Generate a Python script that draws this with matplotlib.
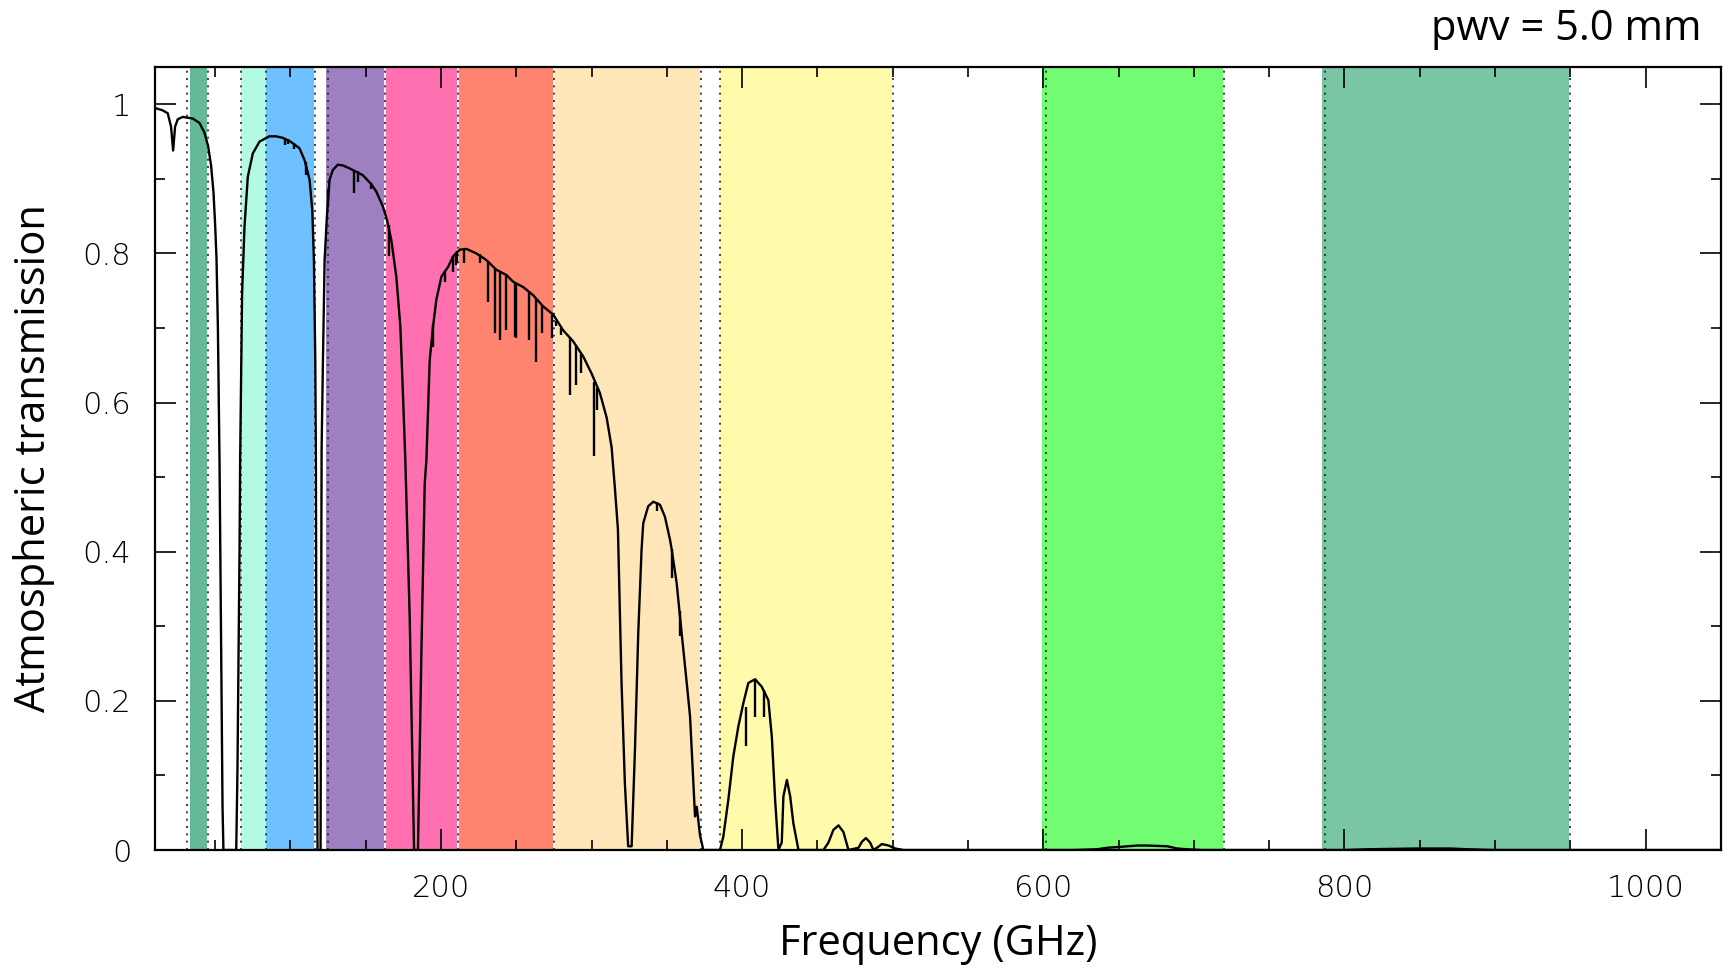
# Atmospheric transmission at pwv = 5.0 mm with the ALMA bands shaded.

import matplotlib
matplotlib.use('Agg')
import matplotlib.pyplot as plt
from matplotlib.ticker import MultipleLocator, FuncFormatter

# =========================
# Transmission curve (smooth part)
# =========================
freq_ghz = [10, 15, 18.5, 20.7, 22.1, 23.4, 25.2, 28.5, 35, 39.6, 42.9, 45.3, 47.3,
            48.9, 50.0, 50.9, 51.8, 52.9, 53.7, 54.9, 55.5, 64.0, 64.8, 66.2, 66.6,
            67.9, 69.5, 71.7, 75.0, 79.5, 86, 90.5, 95, 100, 106, 109.4, 112.7,
            114.5, 115.6, 116.5, 116.9, 117.1, 118.0, 120.0, 120.7, 121.6, 122.7,
            124.2, 126.0, 128.2, 131.5, 134.8, 139.3, 148, 153.7, 157, 161.4, 164.1,
            167, 170.3, 173, 174.7, 176.3, 179.2, 182.1, 184.7, 187, 189.2, 190.3,
            192.5, 194.7, 196.9, 200.3, 204.7, 208, 212.4, 216.9, 223.5, 230.2,
            236.8, 243.5, 247.9, 254.5, 261.2, 267.8, 274.5, 281.1, 287.8, 294.4,
            300, 305.5, 310, 313.3, 315.5, 317.5, 319.9, 322.1, 324.3, 326.6, 328.8,
            331, 333.2, 334.3, 337.6, 341, 345.4, 348.7, 352.1, 353.2, 356.5, 359.8,
            363.2, 365.4, 367.6, 368.7, 369.8, 370.6, 372, 374.2, 385.3, 387.5,
            390.8, 394.1, 397.5, 400.8, 404.1, 408.6, 413, 417.4, 419.7, 421.9,
            424.1, 426.3, 427.4, 429.7, 431.9, 434, 437.4, 454, 457.3, 460.6, 464,
            467.3, 470.6, 477.3, 479.5, 482.2, 485, 487.2, 489.5, 492.8, 497.2,
            501.7, 507.2, 620, 635.8, 642.4, 650, 662.4, 669, 682.3, 689, 695.6,
            705, 800, 815, 848, 870, 882, 900, 1050]
transmission = [0.995, 0.992, 0.988, 0.970, 0.938, 0.970, 0.980, 0.983, 0.981, 0.975,
                0.962, 0.944, 0.918, 0.882, 0.838, 0.793, 0.703, 0.523, 0.340, 0.058,
                0.0, 0.0, 0.104, 0.403, 0.523, 0.747, 0.836, 0.903, 0.934, 0.950,
                0.957, 0.957, 0.955, 0.950, 0.941, 0.925, 0.899, 0.858, 0.791, 0.657,
                0.523, 0.358, 0.0, 0.0, 0.537, 0.657, 0.791, 0.849, 0.899, 0.912,
                0.919, 0.918, 0.914, 0.905, 0.893, 0.883, 0.863, 0.845, 0.818, 0.769,
                0.702, 0.613, 0.523, 0.313, 0.0, 0.0, 0.268, 0.492, 0.523, 0.657,
                0.702, 0.738, 0.769, 0.782, 0.796, 0.805, 0.806, 0.800, 0.791, 0.778,
                0.771, 0.762, 0.755, 0.744, 0.729, 0.718, 0.697, 0.682, 0.662, 0.639,
                0.613, 0.580, 0.540, 0.485, 0.430, 0.224, 0.090, 0.005, 0.005, 0.134,
                0.291, 0.403, 0.438, 0.461, 0.467, 0.463, 0.447, 0.416, 0.403, 0.358,
                0.291, 0.224, 0.179, 0.090, 0.045, 0.058, 0.045, 0.020, 0.0, 0.0,
                0.018, 0.067, 0.125, 0.166, 0.197, 0.224, 0.229, 0.219, 0.201, 0.152,
                0.067, 0.0, 0.010, 0.072, 0.094, 0.072, 0.036, 0.0, 0.0, 0.010, 0.027,
                0.033, 0.024, 0.0, 0.003, 0.011, 0.016, 0.010, 0.0, 0.003, 0.008,
                0.006, 0.002, 0.0, 0.0, 0.001, 0.003, 0.004, 0.006, 0.006, 0.005,
                0.002, 0.001, 0.0, 0.0, 0.001, 0.002, 0.002, 0.001, 0.0, 0.0]

# narrow absorption lines: frequency, bottom of the dip, top of the dip
line_ghz = [96.5, 98.5, 102.1, 110.5, 124.8, 142.0, 144.8, 153.7, 165.4, 195.0,
            202.9, 208.2, 210.0, 210.6, 215.2, 225.9, 231.3, 235.7, 239.0, 243.0,
            249.0, 250.1, 258.5, 263.4, 267.4, 273.8, 276.7, 279.6, 286.0, 289.4,
            293.3, 301.7, 303.3, 343.2, 353.2, 358.7, 402.4, 408.6, 414.6]
line_bottom = [0.946, 0.947, 0.940, 0.905, 0.862, 0.881, 0.896, 0.887, 0.796, 0.675,
               0.762, 0.775, 0.785, 0.787, 0.787, 0.787, 0.735, 0.693, 0.684, 0.697,
               0.688, 0.687, 0.684, 0.655, 0.693, 0.686, 0.702, 0.691, 0.610, 0.624,
               0.639, 0.528, 0.590, 0.455, 0.365, 0.287, 0.139, 0.179, 0.178]
line_top = [0.955, 0.954, 0.948, 0.922, 0.885, 0.912, 0.910, 0.894, 0.838, 0.705,
            0.776, 0.797, 0.800, 0.803, 0.806, 0.799, 0.790, 0.780, 0.776, 0.772,
            0.761, 0.760, 0.749, 0.740, 0.729, 0.718, 0.710, 0.700, 0.688, 0.677,
            0.665, 0.628, 0.620, 0.467, 0.403, 0.320, 0.192, 0.229, 0.215]

# =========================
# ALMA bands
# =========================
band_lo = [33, 67, 84, 123.5, 163, 211, 275, 385, 599, 785]
band_hi = [45, 84, 116, 163, 211, 275, 373, 500, 720, 950]
band_colors = ['#64b996', '#b2fae4', '#6ec0ff', '#9e80c2', '#ff70b0',
               '#ff8470', '#ffe6b9', '#fffbaa', '#72fc72', '#7ac5a4']
band_edges = [31.3, 45, 67, 84, 116, 125, 163, 211, 275, 373, 385, 500,
              602, 720, 787, 950]
white_edges = [45, 116, 163, 211, 275, 373, 500, 720, 950]

fig = plt.figure(figsize=(17.29, 9.68), dpi=100)
ax = fig.add_axes([0.0896, 0.1219, 0.9057, 0.8089])

for lo, hi, c in zip(band_lo, band_hi, band_colors):
    ax.axvspan(lo, hi, color=c, lw=0, zorder=0)
for e in white_edges:
    ax.axvline(e, color='white', lw=1.3, zorder=1)
for e in band_edges:
    ax.axvline(e, color='#222222', lw=1.2, ls=(0, (1.2, 3.2)), zorder=2)

ax.plot(freq_ghz, transmission, color='black', lw=1.7, zorder=3)
ax.vlines(line_ghz, line_bottom, line_top, color='black', lw=1.7, zorder=3)

ax.set_xlim(10, 1050)
ax.set_ylim(0, 1.05)

# =========================
# Ticks and labels
# =========================
ax.xaxis.set_major_locator(MultipleLocator(200))
ax.xaxis.set_minor_locator(MultipleLocator(50))
ax.yaxis.set_major_locator(MultipleLocator(0.2))
ax.yaxis.set_minor_locator(MultipleLocator(0.1))
ax.yaxis.set_major_formatter(FuncFormatter(lambda v, p: '%g' % round(v, 2)))
ax.tick_params(which='both', direction='in', top=True, right=True, width=1.2)
ax.tick_params(which='major', length=15, labelsize=22, pad=17, labelcolor='black')
ax.tick_params(which='minor', length=7.5)
for lab in ax.get_xticklabels() + ax.get_yticklabels():
    lab.set_fontfamily('DejaVu Sans')
    lab.set_fontweight(200)
for s in ax.spines.values():
    s.set_linewidth(1.6)

ax.set_xlabel('Frequency (GHz)', fontsize=30, family='Open Sans', labelpad=15)
ax.set_ylabel('Atmospheric transmission', fontsize=30, family='Open Sans', labelpad=20)
fig.text(0.984, 0.970, 'pwv = 5.0 mm', ha='right', va='center', fontsize=30,
         family='Open Sans')

fig.savefig('out.png', dpi=100)
